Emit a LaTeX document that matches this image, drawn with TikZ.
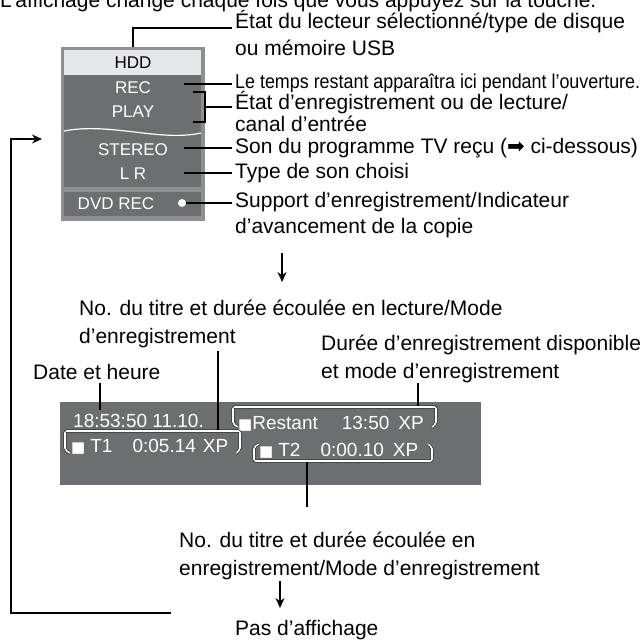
\documentclass[tikz,border=0pt]{standalone}
\usepackage{fontspec}
\setmainfont{Liberation Sans}
\newfontfamily\condfont[FakeStretch=0.895]{Liberation Sans}
\newfontfamily\symfont{DejaVu Sans}
\usepackage{tikz}
\usetikzlibrary{arrows.meta, positioning, calc}
\definecolor{pFrame}{HTML}{8E8F92}
\definecolor{pDark}{HTML}{6D6E71}
\definecolor{pLight}{HTML}{E6E7E8}
\newcommand{\sq}{{\symfont\fontsize{15}{15}\selectfont ■}}

\begin{document}
\begin{tikzpicture}[x=1pt, y=-1pt,
  every node/.style={font=\fontsize{21}{25}\selectfont, inner sep=0pt},
  label/.style={anchor=west, align=left},
  cell/.style={font=\fontsize{17}{20}\selectfont, color=white},
  lcd/.style={font=\fontsize{19}{21}\selectfont, color=white, anchor=west},
  leader/.style={draw=black, line width=1.4pt},
  brace/.style={draw=black, double=white, double distance=1.6pt, line width=0.5pt, rounded corners=2pt},
  flow/.style={draw=black, line width=1.6pt, -{Stealth[length=10pt, width=9pt]}}
]
\useasboundingbox (0,0) rectangle (644,641);

\node[anchor=base west] (topline) at (0,7) {L’affichage change chaque fois que vous appuyez sur la touche.};

% status panel
\fill[pFrame] (61,47) rectangle (205,221);
\fill[pLight] (64,50) rectangle (201,75);
\fill[pDark] (64,75) rectangle (201,187);
\fill[pDark] (64,192) rectangle (201,216);
\draw[white, line width=1.2pt] (64,131) .. controls (110,122) and (160,142) .. (201,133);

\node[cell, color=black] (hdd) at (133,63) {HDD};
\node[cell] (rec) at (133,88) {REC};
\node[cell] (play) at (133,112) {PLAY};
\node[cell] (stereo) at (133,150) {STEREO};
\node[cell] (lr) at (133,174) {L R};
\node[cell] (dvdrec) at (116,204) {DVD REC};
\node[circle, fill=white, minimum size=8pt] (dot) at (182,203) {};

\node[label] (lblDrive) at (235,22) {État du lecteur sélectionné/type de disque};
\node[label] (lblUsb) at (235,48) {ou mémoire USB};
\node[label, font=\condfont\fontsize{20}{24}\selectfont] (lblTime) at (235,83) {Le temps restant apparaîtra ici pendant l’ouverture.};
\node[label] (lblState) at (235,103) {État d’enregistrement ou de lecture/};
\node[label] (lblChan) at (235,124) {canal d’entrée};
\node[label] (lblSound) at (235,148) {Son du programme TV reçu ({\symfont ➡} ci-dessous)};
\node[label] (lblType) at (235,173) {Type de son choisi};
\node[label] (lblMedia) at (235,202) {Support d’enregistrement/Indicateur};
\node[label] (lblCopy) at (235,228) {d’avancement de la copie};

\coordinate (hddTop) at (133,47);
\coordinate (drvEnd) at (232,28);
\coordinate (recEnd) at (184,84);
\coordinate (stateEnd) at (205,107);
\coordinate (soundEnd) at (184,148);
\coordinate (typeEnd) at (184,173);

\draw[leader] (hddTop) |- (drvEnd);
\draw[leader] (recEnd) -- ([xshift=-3pt]recEnd -| lblTime.west);
\draw[leader] (193,92) -- (205,92) -- (205,122) -- (193,122);
\draw[leader] (stateEnd) -- ([xshift=-3pt]stateEnd -| lblState.west);
\draw[leader] (soundEnd) -- ([xshift=-3pt]soundEnd -| lblSound.west);
\draw[leader] (typeEnd) -- ([xshift=-3pt]typeEnd -| lblType.west);
\draw[leader] (dot) -- ([xshift=-3pt]dot -| lblMedia.west);

\coordinate (stepOneA) at (282,253);
\coordinate (stepOneB) at (282,282);
\draw[flow] (stepOneA) -- (stepOneB);

% playback display
\node[label] (lblTitleA) at (79,308) {No. du titre et durée écoulée en lecture/Mode};
\node[label] (lblTitleB) at (79,338) {d’enregistrement};
\node[label] (lblRemainA) at (321,345) {Durée d’enregistrement disponible};
\node[label] (lblRemainB) at (321,373) {et mode d’enregistrement};
\node[label] (lblDate) at (33,372) {Date et heure};

\fill[pDark] (60,402) rectangle (481,485);

\node[lcd] (clock) at (73,421) {18:53:50 11.10.};
\node[lcd] (rowPlay) at (71,447) {\sq\hspace{5pt}T1\hspace{20pt}0:05.14\hspace{7pt}XP};
\node[lcd] (rowRemain) at (238,424) {\sq Restant\hspace{24pt}13:50\hspace{9pt}XP};
\node[lcd] (rowRec) at (259,451) {\sq\hspace{5pt}T2\hspace{20pt}0:00.10\hspace{9pt}XP};

\coordinate (clockTop) at (100,410);
\coordinate (braceT1) at (218,431);
\coordinate (braceRemain) at (418,407);
\coordinate (braceRec) at (307,461);
\coordinate (recLeaderEnd) at (307,507);

\draw[leader] (clockTop |- lblDate.south) ++(0,3) -- (clockTop);
\draw[leader] (braceT1 |- lblTitleB.south) ++(0,3) -- (braceT1);
\draw[leader] (braceRemain |- lblRemainB.south) -- (braceRemain);
\draw[leader] (braceRec) -- (recLeaderEnd);

\draw[brace] (70,453) -- (65,450) -- (65,431) -- (240,431) -- (240,450) -- (236,453);
\draw[brace] (238,427) -- (233,424) -- (233,407) -- (436,407) -- (436,424) -- (432,427);
\draw[brace] (259,444) -- (254,447) -- (254,461) -- (432,461) -- (432,447) -- (428,444);

\node[label] (lblRecA) at (179,540) {No. du titre et durée écoulée en};
\node[label] (lblRecB) at (179,570) {enregistrement/Mode d’enregistrement};

\coordinate (stepTwoA) at (280,581);
\coordinate (stepTwoB) at (280,608);
\draw[flow] (stepTwoA) -- (stepTwoB);

\node[label] (lblNone) at (235,630) {Pas d’affichage};

\coordinate (loopStart) at (171,613);
\coordinate (loopLow) at (11,613);
\coordinate (loopHigh) at (11,139);
\coordinate (loopEnd) at (42,139);
\draw[flow] (loopStart) -- (loopLow) -- (loopHigh) -- (loopEnd);
\end{tikzpicture}
\end{document}
